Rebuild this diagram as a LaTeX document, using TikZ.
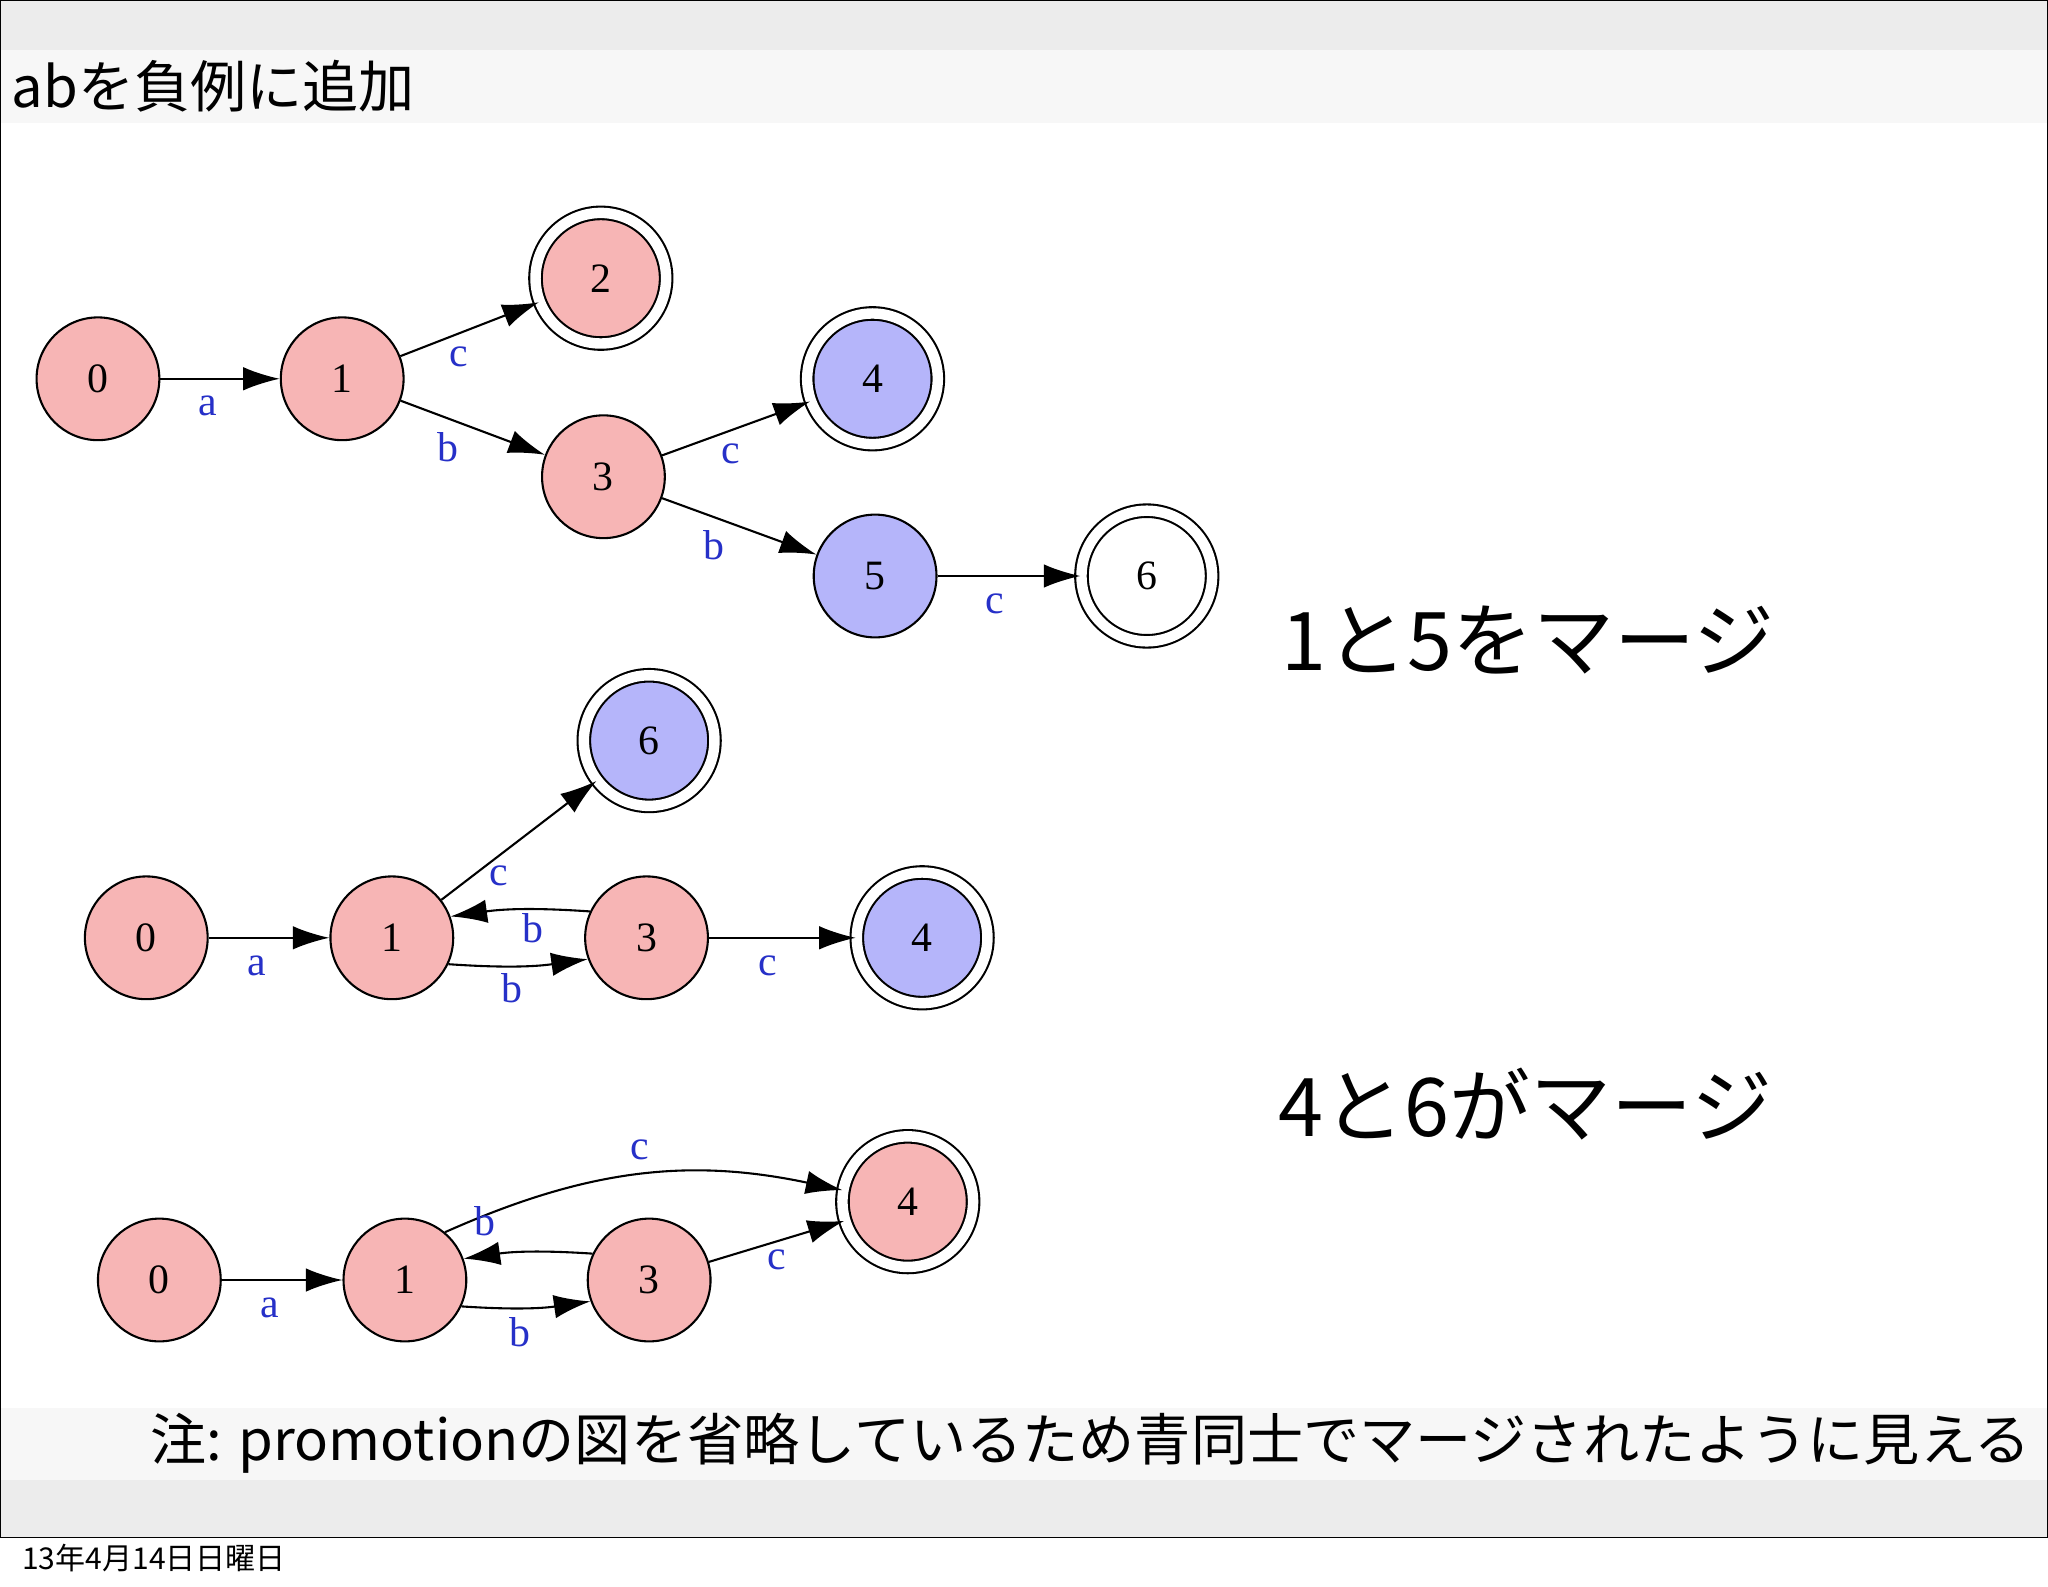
\documentclass[tikz,border=0pt]{standalone}
\usepackage{fontspec}
\setmainfont{Liberation Serif}
\newfontfamily\jp{Noto Sans CJK JP}
\usetikzlibrary{arrows.meta}
\definecolor{pk}{HTML}{F7B5B5}
\definecolor{bl}{HTML}{B5B5FA}
\definecolor{lb}{HTML}{2630C8}
\begin{document}
\begin{tikzpicture}[x=0.5pt,y=-0.5pt,
 st/.style={circle,draw,line width=0.8pt,minimum size=47pt,inner sep=0pt,font=\fontsize{16}{16}\selectfont},
 acc/.style={st,double,double distance=4pt,minimum size=50pt},
 ed/.style={line width=0.8pt,-{Latex[length=14pt,width=9pt]}},
 lab/.style={text=lb,font=\fontsize{16}{16}\selectfont}]
\useasboundingbox (0,0) rectangle (1568,1215);
\fill[gray!15] (0,0) rectangle (1568,1177);
\fill[gray!6] (0,38) rectangle (1568,94);
\fill[white] (0,94) rectangle (1568,1078);
\fill[gray!6] (0,1078) rectangle (1568,1133);
\draw[line width=0.6pt] (0.5,0.5) rectangle (1567.5,1177);
\node[anchor=west,font=\jp\fontsize{21.5}{21.5}\selectfont] (t) at (2,66) {abを負例に追加};
\node[anchor=west,font=\jp\fontsize{21.5}{21.5}\selectfont] (n) at (108,1105) {注: promotionの図を省略しているため青同士でマージされたように見える};
\node[anchor=west,font=\jp\fontsize{11.5}{11.5}\selectfont] (d) at (10,1193) {13年4月14日日曜日};
\node[font=\jp\fontsize{31}{31}\selectfont] (m1) at (1170,490) {1と5をマージ};
\node[font=\jp\fontsize{31}{31}\selectfont] (m2) at (1168,845) {4と6がマージ};
% top
\node[st,fill=pk] (a0) at (75,290) {0};
\node[st,fill=pk] (a1) at (262,290) {1};
\node[acc,fill=pk] (a2) at (460,213) {2};
\node[st,fill=pk] (a3) at (462,365) {3};
\node[acc,fill=bl] (a4) at (668,290) {4};
\node[st,fill=bl] (a5) at (670,441) {5};
\node[acc,fill=white] (a6) at (878,441) {6};
\draw[ed] (a0)--(a1) node[lab,pos=0.4,below=3pt]{a};
\draw[ed] (a1)--(a2) node[lab,pos=0.3,below right=-1pt]{c};
\draw[ed] (a1)--(a3) node[lab,pos=0.45,below left=-1pt]{b};
\draw[ed] (a3)--(a4) node[lab,pos=0.35,below right=-1pt]{c};
\draw[ed] (a3)--(a5) node[lab,pos=0.45,below left=-1pt]{b};
\draw[ed] (a5)--(a6) node[lab,pos=0.4,below=3pt]{c};
% middle
\node[st,fill=pk] (b0) at (112,718) {0};
\node[st,fill=pk] (b1) at (300,718) {1};
\node[acc,fill=bl] (b6) at (497,567) {6};
\node[st,fill=pk] (b3) at (495,718) {3};
\node[acc,fill=bl] (b4) at (706,718) {4};
\draw[ed] (b0)--(b1) node[lab,pos=0.4,below=3pt]{a};
\draw[ed] (b1)--(b6) node[lab,pos=0.3,below right=-3pt]{c};
\draw[ed] (b3.155) to[bend right=6] node[lab,pos=0.4,below=-2pt]{b} (b1.20);
\draw[ed] (b1.-25) to[bend right=6] node[lab,pos=0.45,below=-1pt]{b} (b3.-160);
\draw[ed] (b3)--(b4) node[lab,pos=0.4,below=3pt]{c};
% bottom
\node[st,fill=pk] (c0) at (122,980) {0};
\node[st,fill=pk] (c1) at (310,980) {1};
\node[st,fill=pk] (c3) at (497,980) {3};
\node[acc,fill=pk] (c4) at (695,920) {4};
\draw[ed] (c0)--(c1) node[lab,pos=0.4,below=3pt]{a};
\draw[ed] (c1.50) to[bend left=18] node[lab,pos=0.5,above=2pt]{c} (c4.170);
\draw[ed] (c3.155) to[bend right=6] node[lab,pos=0.85,above=4pt]{b} (c1.20);
\draw[ed] (c1.-25) to[bend right=6] node[lab,pos=0.45,below=0pt]{b} (c3.-160);
\draw[ed] (c3)--(c4) node[lab,pos=0.4,below right=-2pt]{c};
\end{tikzpicture}
\end{document}
